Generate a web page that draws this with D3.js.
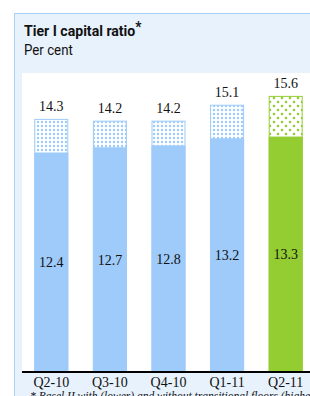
<!DOCTYPE html>
<html>
<head>
<meta charset="utf-8">
<script src="https://cdnjs.cloudflare.com/ajax/libs/d3/7.8.5/d3.min.js"></script>
<style>
  html, body { margin: 0; padding: 0; background: #ffffff; }
  svg { display: block; }
</style>
</head>
<body>
<svg id="chart" width="310" height="396"></svg>
<script>
// Chart data
const quarters = ['Q2-10', 'Q3-10', 'Q4-10', 'Q1-11', 'Q2-11'];
const withFloors = [12.4, 12.7, 12.8, 13.2, 13.3];     // lower, solid part
const withoutFloors = [14.3, 14.2, 14.2, 15.1, 15.6];  // higher, dotted top
const highlight = [false, false, false, false, true];

const blue = '#9ecbfa';
const green = '#94cd32';

const svg = d3.select('#chart');

// Pattern fills for the dotted part of each bar
const defs = svg.append('defs');
const pBlue = defs.append('pattern')
    .attr('id', 'dots-blue')
    .attr('patternUnits', 'userSpaceOnUse')
    .attr('width', 4).attr('height', 4);
pBlue.append('rect').attr('width', 4).attr('height', 4).attr('fill', '#ffffff');
pBlue.append('circle').attr('cx', 2).attr('cy', 2).attr('r', 1.2).attr('fill', blue);

const pGreen = defs.append('pattern')
    .attr('id', 'dots-green')
    .attr('patternUnits', 'userSpaceOnUse')
    .attr('width', 8).attr('height', 8);
pGreen.append('rect').attr('width', 8).attr('height', 8).attr('fill', '#ffffff');
pGreen.append('circle').attr('cx', 2).attr('cy', 2).attr('r', 1.3).attr('fill', green);
pGreen.append('circle').attr('cx', 6).attr('cy', 6).attr('r', 1.3).attr('fill', green);

// Background panel
svg.append('rect')
    .attr('x', 14.5).attr('y', 13.5)
    .attr('width', 300).attr('height', 390)
    .attr('fill', '#e8f2fd')
    .attr('stroke', '#a8cff6')
    .attr('stroke-width', 1);

// White plot area
svg.append('rect')
    .attr('x', 22).attr('y', 73)
    .attr('width', 300).attr('height', 299)
    .attr('fill', '#ffffff');

// Title (squeezed a little to mimic the condensed face)
const title = svg.append('text')
    .attr('transform', 'translate(24,36) scale(0.91,1)')
    .attr('font-family', '"Liberation Sans Narrow", "Roboto", sans-serif')
    .attr('font-weight', 'bold')
    .attr('font-size', 15.5)
    .attr('fill', '#111');
title.append('tspan').text('Tier I capital ratio');
title.append('tspan').attr('dy', -4).attr('font-size', 15).text('*');

svg.append('text')
    .attr('transform', 'translate(24,55) scale(0.95,1)')
    .attr('font-family', '"Liberation Sans Narrow", "Roboto", sans-serif')
    .attr('font-size', 14)
    .attr('fill', '#111')
    .text('Per cent');

// Scales
const x = d3.scaleBand()
    .domain(quarters)
    .range([22, 315])
    .paddingInner(0.42)
    .paddingOuter(0.21);

const y = d3.scaleLinear()
    .domain([0, 16])
    .range([372, 88.8]);

const bars = svg.append('g').selectAll('g')
    .data(quarters)
    .join('g');

// Dotted upper part (full height without floors)
bars.append('rect')
    .attr('x', d => x(d) + 0.5)
    .attr('y', (d, i) => y(withoutFloors[i]) + 0.5)
    .attr('width', x.bandwidth() - 1)
    .attr('height', (d, i) => y(0) - y(withoutFloors[i]) - 0.5)
    .attr('fill', (d, i) => highlight[i] ? 'url(#dots-green)' : 'url(#dots-blue)')
    .attr('stroke', (d, i) => highlight[i] ? green : blue)
    .attr('stroke-width', 1);

// Solid lower part
bars.append('rect')
    .attr('x', d => x(d))
    .attr('y', (d, i) => y(withFloors[i]))
    .attr('width', x.bandwidth())
    .attr('height', (d, i) => y(0) - y(withFloors[i]))
    .attr('fill', (d, i) => highlight[i] ? green : blue);

const numFont = '"Liberation Serif", "DejaVu Serif", serif';

// Value labels above the bars
bars.append('text')
    .attr('x', d => x(d) + x.bandwidth() / 2)
    .attr('y', (d, i) => y(withoutFloors[i]) - 8)
    .attr('text-anchor', 'middle')
    .attr('font-family', numFont)
    .attr('font-size', 14)
    .attr('fill', '#111')
    .text((d, i) => withoutFloors[i].toFixed(1));

// Value labels inside the solid part
bars.append('text')
    .attr('x', d => x(d) + x.bandwidth() / 2)
    .attr('y', (d, i) => (y(0) + y(withFloors[i])) / 2 + 5)
    .attr('text-anchor', 'middle')
    .attr('font-family', numFont)
    .attr('font-size', 14)
    .attr('fill', '#111')
    .text((d, i) => withFloors[i].toFixed(1));

// Baseline axis
const xAxis = svg.append('g')
    .attr('transform', `translate(0,${y(0)})`)
    .call(d3.axisBottom(x).tickSize(0).tickPadding(5));
xAxis.select('.domain')
    .attr('d', 'M22,0H310')
    .attr('stroke', '#000')
    .attr('stroke-width', 2);
xAxis.selectAll('text')
    .attr('font-family', numFont)
    .attr('font-size', 14)
    .attr('fill', '#111');

// Footnote (clipped at the bottom edge, as in the original)
svg.append('text')
    .attr('x', 30).attr('y', 400)
    .attr('font-family', numFont)
    .attr('font-style', 'italic')
    .attr('font-size', 11.5)
    .attr('fill', '#111')
    .text('* Basel II with (lower) and without transitional floors (higher)');
</script>
</body>
</html>
